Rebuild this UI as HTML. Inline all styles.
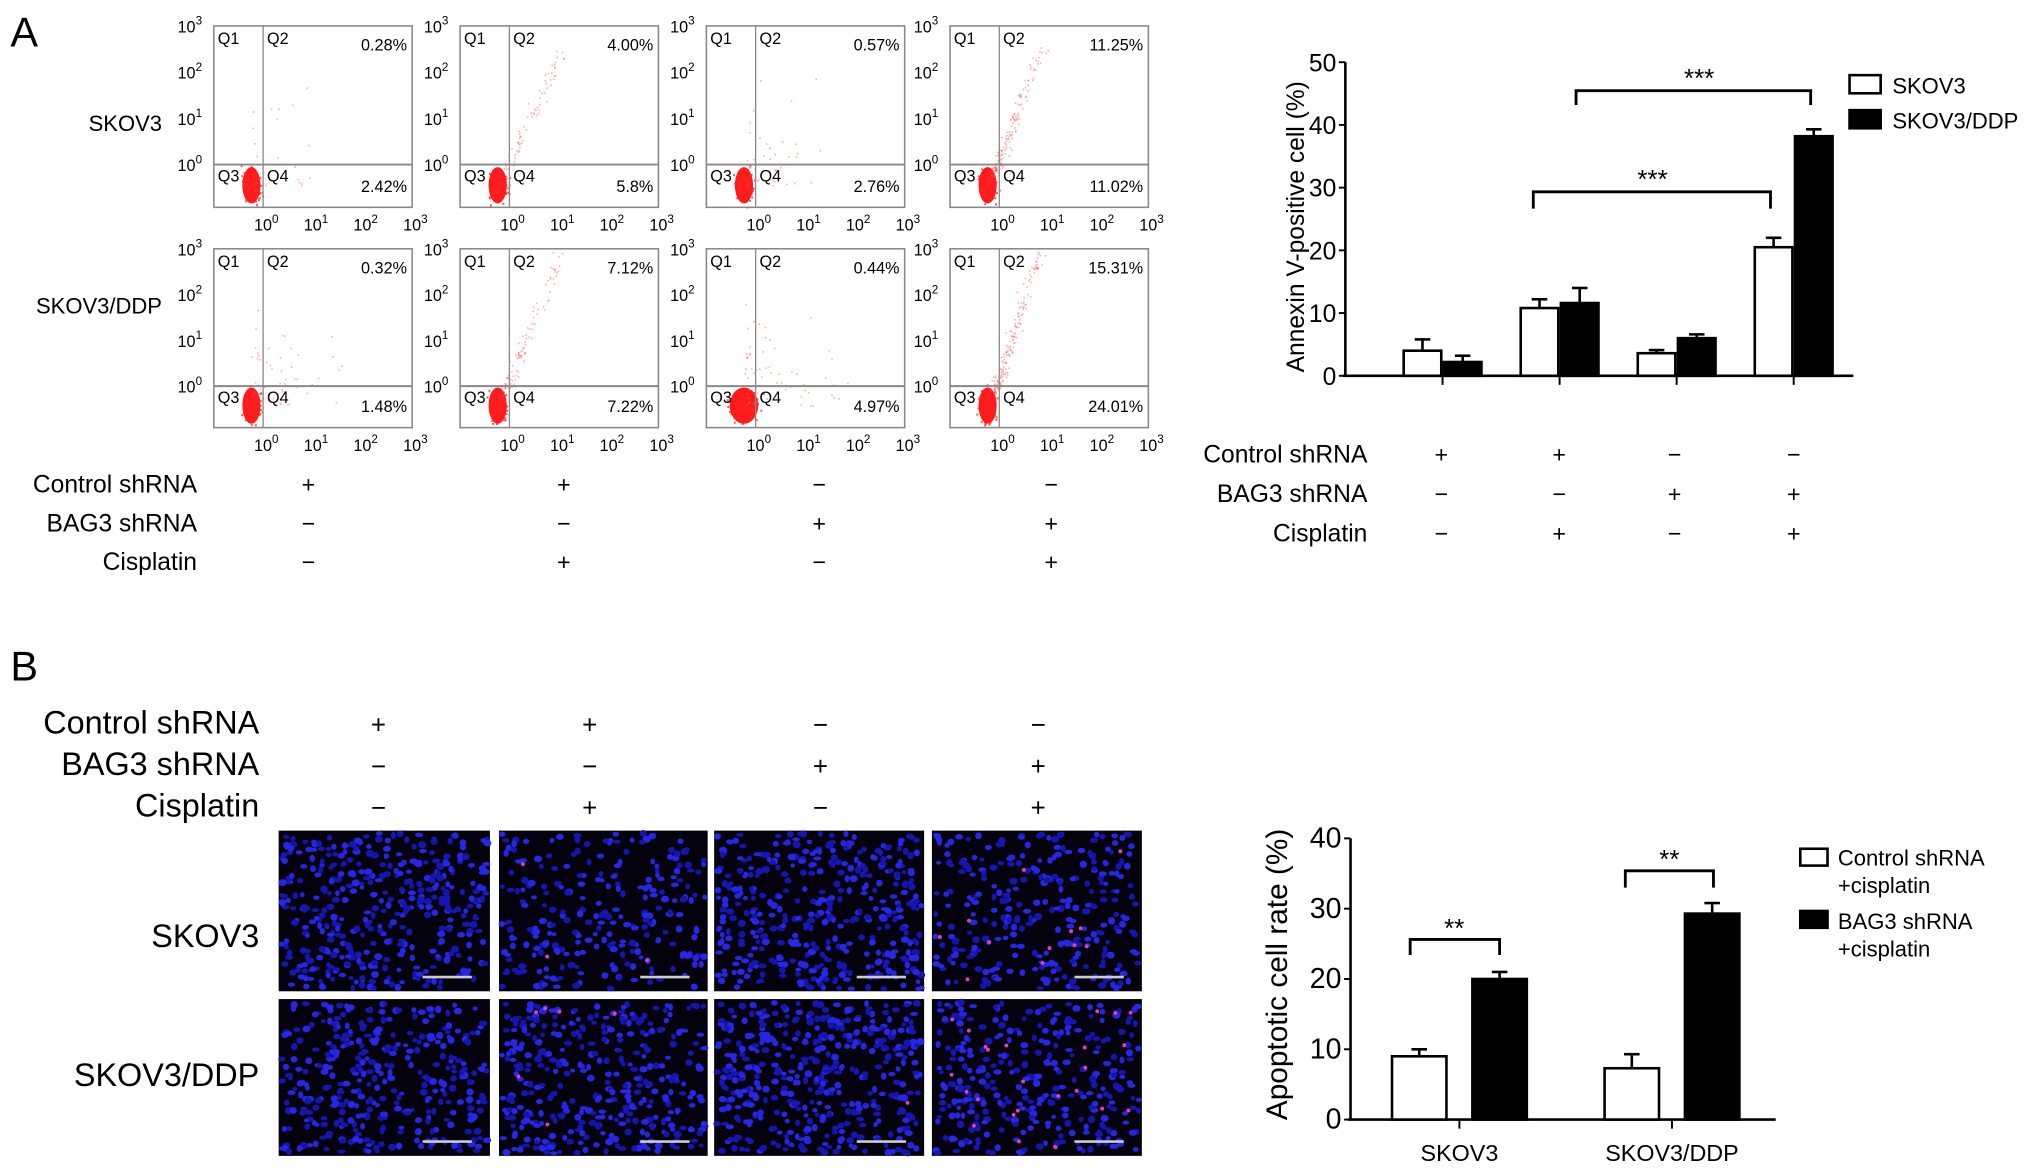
<!DOCTYPE html>
<html><head><meta charset="utf-8"><style>
html,body{margin:0;padding:0;background:#fff;}
svg{display:block;font-family:"Liberation Sans",Arial,sans-serif;}
</style></head><body>
<svg id="root" width="2031" height="1174" viewBox="0 0 1567 906" preserveAspectRatio="none" xmlns="http://www.w3.org/2000/svg">
<rect width="1567" height="906" fill="#fff"/>
<text x="8" y="36" font-size="32">A</text>
<text x="8" y="525" font-size="32">B</text>
<g id="flow"></g>
<g id="barA"></g>
<g id="micro"></g>
<g id="barB"></g>
</svg>
<script>
// ---- data ----
const flowQ2 = [["0.28%","4.00%","0.57%","11.25%"],["0.32%","7.12%","0.44%","15.31%"]];
const flowQ4 = [["2.42%","5.8%","2.76%","11.02%"],["1.48%","7.22%","4.97%","24.01%"]];
const condNames = ["Control shRNA","BAG3 shRNA","Cisplatin"];
const condSigns = [["+","+","−","−"],["−","−","+","+"],["−","+","−","+"]];
const aCategories = ["G1","G2","G3","G4"];
const aSkov3 = [4.0,10.8,3.6,20.5];
const aSkov3Err = [1.8,1.4,0.5,1.5];
const aDdp = [2.2,11.6,6.0,38.2];
const aDdpErr = [1.0,2.4,0.6,1.1];
const aTicks = [0,10,20,30,40,50];
const bCategories = ["SKOV3","SKOV3/DDP"];
const bCtrl = [9.0,7.3];
const bCtrlErr = [1.0,2.0];
const bBag = [20.0,29.3];
const bBagErr = [1.0,1.5];
const bTicks = [0,10,20,30,40];

const NS="http://www.w3.org/2000/svg";
function mk(parent,tag,attrs,text){const e=document.createElementNS(NS,tag);for(const k in attrs)e.setAttribute(k,attrs[k]);if(text!==undefined)e.textContent=text;parent.appendChild(e);return e;}
let seed=7;function rnd(){seed=(seed*16807)%2147483647;return seed/2147483647;}
function gauss(){return (rnd()+rnd()+rnd()-1.5)/1.5;}

// ---- flow cytometry ----
const flow=document.getElementById('flow');
const colX=[165,355,545,733], rowY=[[20,160,127],[192,330,298]];
const W=153;
for(let r=0;r<2;r++)for(let c=0;c<4;c++){
  const x0=colX[c],y0=rowY[r][0],y1=rowY[r][1],gy=rowY[r][2],gx=x0+38;
  const g=mk(flow,'g',{});
  
  
  const cx=gx-9, cy=y1-17;
  const big=(r===1&&c===2);
  mk(g,'ellipse',{cx:cx,cy:cy,rx:big?11:7,ry:14,fill:'#f00',opacity:0.9});
  for(let i=0;i<120;i++){mk(g,'rect',{x:cx+gauss()*(big?16:10),y:cy+gauss()*18,width:1.5,height:1.5,fill:'#f22',opacity:0.8});}
  const n=[25,70,40,140][c]+(r?30:0);
  for(let i=0;i<n;i++){
    let px,py;
    if(c===1||c===3){const t=Math.pow(rnd(),1.6);px=cx+5+t*(c===3?35:45)+gauss()*7;py=cy-10-t*(r?110:95)+gauss()*8;}
    else {px=cx+rnd()*rnd()*90;py=cy-rnd()*rnd()*90;}
    if(px<x0+2||px>x0+W-2||py<y0+2||py>y1-2)continue;
    mk(g,'rect',{x:px,y:py,width:1.2,height:1.2,fill:'#f55',opacity:0.5});
  }
  mk(g,'rect',{x:x0,y:y0,width:W,height:y1-y0,fill:'none',stroke:'#888','stroke-width':1.2});
  mk(g,'line',{x1:gx,y1:y0,x2:gx,y2:y1,stroke:'#888','stroke-width':1});
  mk(g,'line',{x1:x0,y1:gy,x2:x0+W,y2:gy,stroke:'#888','stroke-width':1.5});
  const fs=12.5;
  mk(g,'text',{x:x0+3,y:y0+14,'font-size':fs},'Q1');
  mk(g,'text',{x:gx+3,y:y0+14,'font-size':fs},'Q2');
  mk(g,'text',{x:x0+3,y:gy+13,'font-size':fs},'Q3');
  mk(g,'text',{x:gx+3,y:gy+13,'font-size':fs},'Q4');
  mk(g,'text',{x:x0+W-4,y:y0+19,'font-size':fs,'text-anchor':'end'},flowQ2[r][c]);
  mk(g,'text',{x:x0+W-4,y:y1-12,'font-size':fs,'text-anchor':'end'},flowQ4[r][c]);
  const yt=[y0,y0+(gy-y0)/3,y0+2*(gy-y0)/3,gy];
  ['3','2','1','0'].forEach((p,k)=>{const t=mk(g,'text',{x:x0-28,y:yt[k]+5,'font-size':12.5});t.textContent='10';mk(t,'tspan',{dy:-6,'font-size':9},p);});
  [0,1,2,3].forEach(k=>{const tx=gx+k*(x0+W-gx)/3;const t=mk(g,'text',{x:tx-7,y:y1+18,'font-size':12.5});t.textContent='10';mk(t,'tspan',{dy:-6,'font-size':9},String(k));});
}
mk(flow,'text',{x:125,y:101,'font-size':17,'text-anchor':'end'},'SKOV3');
mk(flow,'text',{x:125,y:242,'font-size':17,'text-anchor':'end'},'SKOV3/DDP');
const signXA=[238,435,632,811];
condNames.forEach((nm,i)=>{const y=380+i*30;
  mk(flow,'text',{x:152,y:y,'font-size':19,'text-anchor':'end'},nm);
  condSigns[i].forEach((s,j)=>mk(flow,'text',{x:signXA[j],y:y,'font-size':18,'text-anchor':'middle'},s));});

// ---- bar chart helper ----
function barChart(gEl,o){
  const ys=v=>o.y0-(v-o.min)/(o.max-o.min)*(o.y0-o.y1);
  mk(gEl,'line',{x1:o.ax,y1:o.y0,x2:o.ax,y2:o.y1,stroke:'#000','stroke-width':2});
  mk(gEl,'line',{x1:o.ax-2,y1:o.y0,x2:o.xEnd,y2:o.y0,stroke:'#000','stroke-width':2});
  o.ticks.forEach(t=>{mk(gEl,'line',{x1:o.ax-5,y1:ys(t),x2:o.ax,y2:ys(t),stroke:'#000','stroke-width':1.5});
    const tl=mk(gEl,'text',{x:o.ax-7,y:ys(t)+7,'font-size':o.fs,'text-anchor':'end'},String(t));
    });
  o.cats.forEach((c,i)=>{
    const cx=o.gx(i);
    mk(gEl,'line',{x1:cx,y1:o.y0,x2:cx,y2:o.y0+7,stroke:'#000','stroke-width':1.5});
    o.series.forEach((s,k)=>{
      const x=cx+(k===0?-o.bw-o.gap/2:o.gap/2), v=s.vals[i], e=s.err[i];
      const ex=x+o.bw/2;
      mk(gEl,'line',{x1:ex,y1:ys(v),x2:ex,y2:ys(v+e),stroke:'#000','stroke-width':2});
      mk(gEl,'line',{x1:ex-6,y1:ys(v+e),x2:ex+6,y2:ys(v+e),stroke:'#000','stroke-width':2});
      const b=mk(gEl,'rect',{x:x,y:ys(v),width:o.bw,height:o.y0-ys(v),fill:s.fill,stroke:'#000','stroke-width':2});
      
    });
  });
  return ys;
}

// ---- chart A ----
const gA=document.getElementById('barA');
barChart(gA,{ax:1038,y0:290,y1:48,min:0,max:50,xEnd:1430,ticks:aTicks,fs:19,cats:aCategories,
  gx:i=>1113+i*90.3,bw:29,gap:2,series:[{vals:aSkov3,err:aSkov3Err,fill:'#fff'},{vals:aDdp,err:aDdpErr,fill:'#000'}]});
mk(gA,'text',{x:0,y:0,'font-size':19,'text-anchor':'middle',transform:'translate(1006,175) rotate(-90)'},'Annexin V-positive cell (%)');
function bracket(g,x1,x2,y,leg,sx,sy,stars,fs){
  mk(g,'path',{d:`M${x1},${y+leg} V${y} H${x2} V${y+leg}`,fill:'none',stroke:'#000','stroke-width':2.2});
  mk(g,'text',{x:sx,y:sy,'font-size':fs,'text-anchor':'middle'},stars);
}
bracket(gA,1183,1366,148,13,1275,145,'***',20);
bracket(gA,1216,1397,70,11,1311,67,'***',20);
mk(gA,'rect',{x:1427,y:58,width:24,height:14,fill:'#fff',stroke:'#000','stroke-width':2});
mk(gA,'text',{x:1460,y:72,'font-size':17},'SKOV3');
mk(gA,'rect',{x:1427,y:85,width:24,height:14,fill:'#000',stroke:'#000','stroke-width':2});
mk(gA,'text',{x:1460,y:99,'font-size':17},'SKOV3/DDP');
const signXB=[1112,1203,1292,1384];
condNames.forEach((nm,i)=>{const y=357+i*30.5;
  mk(gA,'text',{x:1055,y:y,'font-size':19,'text-anchor':'end'},nm);
  condSigns[i].forEach((s,j)=>mk(gA,'text',{x:signXB[j],y:y,'font-size':18,'text-anchor':'middle'},s));});

// ---- microscopy ----
const gM=document.getElementById('micro');
const mx=[215,385,551,719], my=[[641,765],[771,892]], mw=[163,161,162,162];
const redN=[[0,3,0,12],[0,6,1,25]];
const dens=[[420,260,420,300],[360,380,440,330]];
for(let r=0;r<2;r++)for(let c=0;c<4;c++){
  const x0=mx[c],y0=my[r][0],h=my[r][1]-y0,w=mw[c];
  const g=mk(gM,'g',{});
  
  
  mk(g,'rect',{x:x0,y:y0,width:w,height:h,fill:'#04020c'});
  for(let i=0;i<dens[r][c];i++){
    mk(g,'ellipse',{cx:x0+2+rnd()*(w-4),cy:y0+2+rnd()*(h-4),rx:1.8+rnd()*1.4,ry:1.5+rnd()*1.3,fill:rnd()<0.5?'#2626e6':'#1515b0'});
  }
  for(let i=0;i<redN[r][c];i++){
    mk(g,'circle',{cx:x0+5+rnd()*(w-10),cy:y0+5+rnd()*(h-10),r:1.5,fill:'#e040c0'});
  }
  mk(g,'line',{x1:x0+w-52,y1:y0+h-11,x2:x0+w-14,y2:y0+h-11,stroke:'#ccc','stroke-width':2});
}
mk(gM,'text',{x:200,y:731,'font-size':25,'text-anchor':'end'},'SKOV3');
mk(gM,'text',{x:200,y:838,'font-size':25,'text-anchor':'end'},'SKOV3/DDP');
const signXM=[292,455,633,801];
condNames.forEach((nm,i)=>{const y=566+i*32;
  mk(gM,'text',{x:200,y:y,'font-size':25,'text-anchor':'end'},nm);
  condSigns[i].forEach((s,j)=>mk(gM,'text',{x:signXM[j],y:y,'font-size':20,'text-anchor':'middle'},s));});

// ---- chart B ----
const gB=document.getElementById('barB');
barChart(gB,{ax:1042,y0:864,y1:647,min:0,max:40,xEnd:1370,ticks:bTicks,fs:22,cats:bCategories,
  gx:i=>1126+i*164,bw:42,gap:20,series:[{vals:bCtrl,err:bCtrlErr,fill:'#fff'},{vals:bBag,err:bBagErr,fill:'#000'}]});
bCategories.forEach((c,i)=>mk(gB,'text',{x:1126+i*164,y:896,'font-size':18,'text-anchor':'middle'},c));
mk(gB,'text',{x:0,y:0,'font-size':23,'text-anchor':'middle',transform:'translate(993,752) rotate(-90)'},'Apoptotic cell rate (%)');
bracket(gB,1088,1157,725,12,1122,723,'**',20);
bracket(gB,1254,1322,672,13,1288,670,'**',20);
mk(gB,'rect',{x:1389,y:655,width:21,height:13,fill:'#fff',stroke:'#000','stroke-width':2});
mk(gB,'text',{x:1418,y:668,'font-size':17},'Control shRNA');
mk(gB,'text',{x:1418,y:689,'font-size':17},'+cisplatin');
mk(gB,'rect',{x:1389,y:703,width:21,height:13,fill:'#000',stroke:'#000','stroke-width':2});
mk(gB,'text',{x:1418,y:717,'font-size':17},'BAG3 shRNA');
mk(gB,'text',{x:1418,y:738,'font-size':17},'+cisplatin');
</script>
</body></html>
